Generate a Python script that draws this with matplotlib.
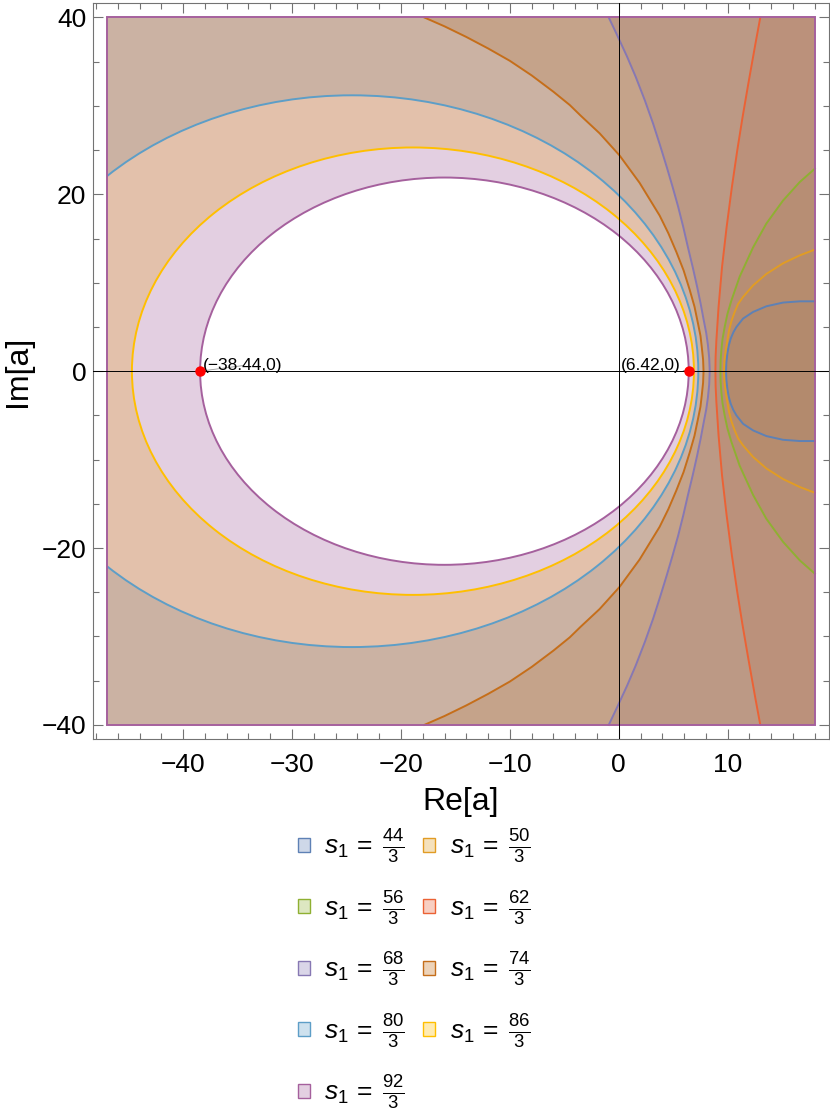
import matplotlib
matplotlib.use("Agg")
import matplotlib.pyplot as plt
import numpy as np
from matplotlib.patches import Ellipse, PathPatch, Rectangle, Patch
from matplotlib.path import Path
from matplotlib.colors import to_rgba

plt.rcParams["font.family"] = "Liberation Sans"
plt.rcParams["mathtext.fontset"] = "custom"
plt.rcParams["mathtext.rm"] = "Liberation Sans"
plt.rcParams["mathtext.it"] = "Liberation Sans:italic"

# s1 = n/3 for these numerators
s1_num = [44, 50, 56, 62, 68, 74, 80, 86, 92]

# plotted rectangle in the a-plane
region_x = (-47.0, 18.0)
region_y = (-40.0, 40.0)

# open boundaries, upper half only (the plot is symmetric in Im[a])
# 44/3, 50/3, 56/3 leave through the right edge
c44_x = [18.0, 16.62, 15.08, 13.55, 12.33, 11.41, 10.8, 10.52, 10.28, 10.1, 9.97, 9.88, 9.85]
c44_y = [7.9, 7.9, 7.76, 7.34, 6.7, 5.95, 5.0, 4.4, 3.7, 2.9, 2.0, 1.0, 0.0]
c50_x = [18.0, 16.62, 15.08, 13.55, 12.33, 11.41, 10.95, 10.64, 10.35, 10.12, 9.82, 9.69, 9.65]
c50_y = [13.75, 13.1, 12.2, 11.0, 9.7, 8.4, 7.6, 6.7, 5.7, 4.6, 2.4, 1.2, 0.0]
c56_x = [18.0, 16.62, 15.08, 13.55, 12.33, 11.1, 10.34, 9.98, 9.72, 9.52, 9.42, 9.35, 9.33]
c56_y = [22.9, 21.4, 19.3, 16.7, 14.0, 10.7, 8.0, 6.5, 5.0, 3.6, 2.4, 1.2, 0.0]
# 62/3, 68/3, 74/3 leave through the top edge
c62_x = [12.99, 12.54, 11.89, 11.36, 10.88, 10.38, 9.9, 9.48, 9.16, 8.96, 8.89, 8.87]
c62_y = [40.0, 37.0, 32.5, 28.7, 25.0, 20.8, 16.3, 11.8, 7.27, 3.5, 1.7, 0.0]
c68_x = [-0.92, -0.15, 0.75, 1.55, 2.4, 3.15, 3.8, 4.4, 4.95, 5.45, 5.92, 6.35,
         6.8, 7.2, 7.52, 7.8, 8.03, 8.18, 8.3, 8.35]
c68_y = [40.0, 38.0, 35.6, 33.3, 30.6, 28.0, 25.5, 23.1, 20.8, 18.6, 16.3, 14.0,
         11.7, 9.5, 7.6, 5.76, 4.3, 3.0, 1.5, 0.0]
c74_x = [-17.85, -16.0, -14.0, -12.0, -10.0, -8.0, -6.0, -4.5, -3.5, -1.76, 0.07, 1.91,
         3.75, 4.55, 5.28, 5.95, 6.51, 6.95, 7.27, 7.5, 7.62, 7.74, 7.78]
c74_y = [40.0, 39.0, 37.8, 36.5, 35.1, 33.45, 31.6, 30.1, 28.9, 26.9, 24.4, 21.3,
         17.6, 15.6, 13.5, 11.4, 9.2, 7.3, 5.4, 4.0, 2.7, 1.3, 0.0]

# closed boundaries for 80/3, 86/3, 92/3: ellipse centre on the real axis, semi-axes
ell_cx = [-24.5, -18.9, -16.01]
ell_a = [31.8, 25.8, 22.43]
ell_b = [31.2, 25.3, 21.9]

# marked points on the real axis
pt_x = [-38.44, 6.42]
pt_y = [0.0, 0.0]
pt_labels = ["(\u221238.44,0)", "(6.42,0)"]

colors = ["#5E81B5", "#E19C24", "#8FB032", "#EB6235", "#8778B3",
          "#C56E1A", "#5D9EC7", "#FFBF00", "#A5609D"]

open_curves = [(c44_x, c44_y, "right"), (c50_x, c50_y, "right"), (c56_x, c56_y, "right"),
               (c62_x, c62_y, "top"), (c68_x, c68_y, "top"), (c74_x, c74_y, "top")]


def mirror(xs, ys):
    x = list(xs) + list(xs[-2::-1])
    y = list(ys) + [-v for v in ys[-2::-1]]
    return x, y


def ellipse_path(cx, a, b):
    e = Ellipse((cx, 0), 2 * a, 2 * b)
    return e.get_patch_transform().transform_path(e.get_path())


def ring_path(cx, a, b):
    x0, x1 = region_x
    y0, y1 = region_y
    outer = Path([(x0, y0), (x1, y0), (x1, y1), (x0, y1), (x0, y0)], closed=True)
    inner = ellipse_path(cx, a, b)
    v = inner.vertices[:-1][::-1]
    v = np.vstack([v, v[:1]])
    return Path.make_compound_path(outer, Path(v, inner.codes))


fig = plt.figure(figsize=(8.3, 11.16), dpi=100)
ax = fig.add_axes([0.1117, 0.3378, 0.8871, 0.6592])

clip_rect = Rectangle((region_x[0], region_y[0]), region_x[1] - region_x[0],
                      region_y[1] - region_y[0], transform=ax.transData)

# filled regions first
for i, (cx_, cy_, side) in enumerate(open_curves):
    x, y = mirror(cx_, cy_)
    pts = list(zip(x, y))
    if side == "top":
        pts += [(region_x[1], region_y[0]), (region_x[1], region_y[1])]
    poly = plt.Polygon(pts, closed=True, facecolor=to_rgba(colors[i], 0.3),
                       edgecolor="none", zorder=1)
    ax.add_patch(poly)

for j in range(3):
    k = 6 + j
    patch = PathPatch(ring_path(ell_cx[j], ell_a[j], ell_b[j]),
                      facecolor=to_rgba(colors[k], 0.3), edgecolor="none", zorder=1)
    ax.add_patch(patch)
    patch.set_clip_path(clip_rect)

# boundary lines on top
for i, (cx_, cy_, side) in enumerate(open_curves):
    x, y = mirror(cx_, cy_)
    ax.plot(x, y, color=colors[i], lw=1.4, zorder=2, solid_joinstyle="round")

for j in range(3):
    k = 6 + j
    e = Ellipse((ell_cx[j], 0), 2 * ell_a[j], 2 * ell_b[j], fill=False,
                edgecolor=colors[k], lw=1.4, zorder=2)
    ax.add_patch(e)
    e.set_clip_path(clip_rect)

ax.add_patch(Rectangle((region_x[0], region_y[0]), region_x[1] - region_x[0],
                       region_y[1] - region_y[0], fill=False,
                       edgecolor=colors[8], lw=1.4, zorder=2.5))

ax.axhline(0, color="black", lw=0.7, zorder=3)
ax.axvline(0, color="black", lw=0.7, zorder=3)

ax.plot(pt_x, pt_y, "o", color="red", ms=6.5, zorder=5)
leader = dict(arrowstyle="-", color="0.6", lw=0.6, shrinkA=0, shrinkB=0)
ax.annotate(pt_labels[0], (pt_x[0], pt_y[0]), xytext=(2, 4), textcoords="offset points",
            ha="left", va="center", fontsize=12.5, zorder=4, arrowprops=leader)
ax.annotate(pt_labels[1], (pt_x[1], pt_y[1]), xytext=(-6, 4), textcoords="offset points",
            ha="right", va="center", fontsize=12.5, zorder=4, arrowprops=leader)

ax.set_xlim(-48.3, 19.3)
ax.set_ylim(-41.6, 41.6)
ax.set_xticks(np.arange(-40, 11, 10))
ax.set_xticks(np.arange(-48, 19, 2), minor=True)
ax.set_yticks(np.arange(-40, 41, 20))
ax.set_yticks(np.arange(-40, 41, 5), minor=True)
ax.tick_params(which="both", direction="in", top=True, right=True, color="0.45",
               width=0.8, labelsize=19)
ax.tick_params(which="major", length=7)
ax.tick_params(which="minor", length=4)
ax.tick_params(axis="x", pad=10)
ax.tick_params(axis="y", pad=4.5)
for sp in ax.spines.values():
    sp.set_color("0.45")
    sp.set_linewidth(0.8)

ax.set_xlabel("Re[a]", fontsize=23, labelpad=7)
ax.set_ylabel("Im[a]", fontsize=23, labelpad=6)

# legend, filled row by row like the original
handles = [Patch(facecolor=to_rgba(c, 0.3), edgecolor=c, lw=1.0) for c in colors]
labels = [r"$s_1\,=\;\frac{%d}{3}$" % n for n in s1_num]
order = [0, 2, 4, 6, 8, 1, 3, 5, 7]
fig.legend([handles[i] for i in order], [labels[i] for i in order], ncol=2,
           loc="upper center", bbox_to_anchor=(0.4988, 1 - 828 / 1116), frameon=False,
           fontsize=19, handlelength=0.45, handleheight=0.45, handletextpad=0.55,
           columnspacing=0.7, labelspacing=0.88, borderpad=0, borderaxespad=0)

fig.savefig("out.png", dpi=100)
